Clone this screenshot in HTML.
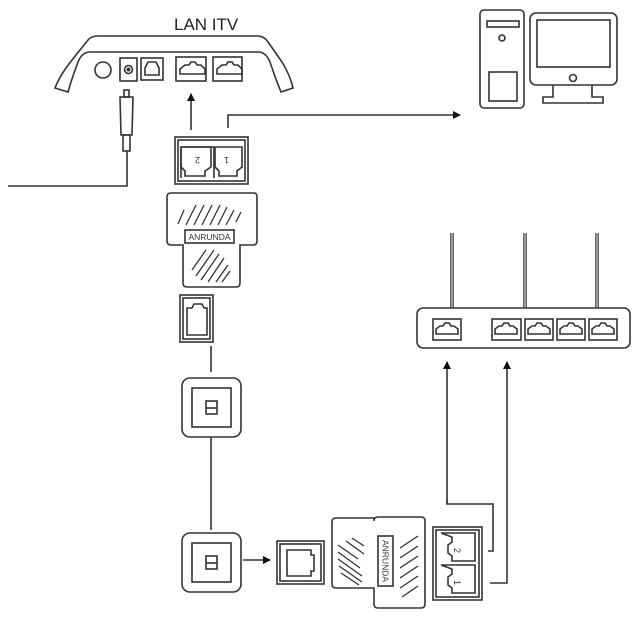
<!DOCTYPE html>
<html><head><meta charset="utf-8"><style>html,body{margin:0;padding:0;background:#fff}svg{display:block}</style></head>
<body>
<svg width="640" height="628" viewBox="0 0 640 628" xmlns="http://www.w3.org/2000/svg" fill="none" stroke="#333" stroke-width="1.6" font-family="Liberation Sans, sans-serif">
<defs><marker id="a" markerWidth="8" markerHeight="8" refX="7" refY="4" orient="auto" markerUnits="userSpaceOnUse"><path d="M0,0 L8,4 L0,8 Z" fill="#111" stroke="none"/></marker></defs>
<!-- top router -->
<text x="174" y="30" font-size="17" fill="#222" stroke="none">LAN  ITV</text>
<path d="M55,88 Q60,75 72,60 L88,40 Q91,36 98,36 L258,36 Q264,36 268,42 L282,62 Q290,75 293,88 L281,92 Q276,80 270,62 Q266,52 258,52 L90,52 Q82,52 78,62 Q72,78 68,92 Z"/>
<circle cx="103" cy="70" r="8"/>
<rect x="120" y="58" width="17" height="23"/><circle cx="128.5" cy="69.5" r="4"/><circle cx="128.5" cy="69.5" r="1.2" fill="#333"/>
<rect x="141" y="58" width="22" height="22"/><path d="M145,68 l3,-6 h8 l3,6 v7 h-14 z"/>
<rect x="176" y="57" width="30" height="24"/><path d="M180,74 v-5 l5,-4 h4 l2,-3 h4 l2,3 h4 l4,4 v5 z"/>
<rect x="213" y="57" width="29" height="24"/><path d="M217,74 v-5 l5,-4 h4 l2,-3 h4 l2,3 h4 l4,4 v5 z"/>
<!-- power plug -->
<rect x="124" y="90" width="5" height="7"/>
<path d="M120,97 h13 l-1,38 h-11 z"/>
<rect x="123" y="135" width="7" height="16"/>
<path d="M127,151 V186 H8"/>
<!-- arrows from adapter -->
<path d="M191,130 V94" marker-end="url(#a)"/>
<path d="M228,128 V115 H460" marker-end="url(#a)"/>
<!-- computer -->
<rect x="480" y="10" width="44" height="98" rx="4"/>
<rect x="487" y="21" width="32" height="6"/>
<circle cx="502" cy="38" r="3"/>
<rect x="489" y="72" width="28" height="29"/>
<rect x="530" y="13" width="87" height="72" rx="6"/>
<rect x="537" y="20" width="73" height="47"/>
<circle cx="573" cy="78" r="3.5"/>
<path d="M553,85 v12 h-10 v6 h60 v-6 h-11 v-12"/>
<!-- top adapter -->
<rect x="175" y="137" width="73" height="47"/>
<rect x="178" y="140" width="67" height="41"/>
<path d="M181,147 h33 M214,147 v31 M181,147 v31"/>
<path d="M181,147 h30 v20 l-6,4 v5 h-20 v-5 l-4,-4 z"/>
<path d="M215,147 h27 v20 l-5,4 v5 h-18 v-5 l-4,-4 z"/>
<text x="200" y="163" font-size="9" fill="#333" stroke="none" transform="rotate(180 200 160)">2</text>
<text x="229" y="163" font-size="9" fill="#333" stroke="none" transform="rotate(180 229 160)">1</text>
<path d="M171,193 H254 Q257,193 257,197 V241 Q257,245 253,245 H240 V283 Q240,287 236,287 H187 Q183,287 183,283 V245 H171 Q167,245 167,241 V197 Q167,193 171,193 Z"/>
<g stroke-width="1.3">
<path d="M178,224 l6,-14 M186,225 l10,-20 M194,225 l10,-20 M202,225 l10,-20 M210,225 l10,-20 M218,225 l9,-18 M226,225 l8,-15 M236,222 l5,-10"/>
<path d="M192,270 l14,-20 M196,276 l18,-26 M201,280 l18,-26 M208,282 l16,-24 M216,282 l12,-17 M222,282 l8,-11"/>
</g>
<rect x="185" y="230" width="49" height="13"/>
<text x="209.5" y="240" font-size="8.5" fill="#333" stroke="none" text-anchor="middle">ANRUNDA</text>
<!-- jack -->
<rect x="180" y="295" width="33" height="47"/><rect x="183" y="298" width="27" height="41"/>
<path d="M187,335 v-27 h5 l2,-4 h8 l2,4 h3 v27 z"/>
<path d="M211,346 V372"/>
<!-- wall plates -->
<rect x="182" y="378" width="59" height="59" rx="8"/><rect x="192" y="388" width="39" height="39"/><rect x="206" y="401" width="11" height="13"/><path d="M206,408 h11"/>
<path d="M211,437 V530"/>
<rect x="182" y="533" width="59" height="59" rx="8"/><rect x="192" y="543" width="39" height="39"/><rect x="206" y="556" width="11" height="13"/><path d="M206,563 h11"/>
<path d="M243,560 H270" marker-end="url(#a)"/>
<!-- bottom jack -->
<rect x="277" y="541" width="47" height="43"/><rect x="280" y="544" width="41" height="37"/>
<path d="M287,550 v26 h24 v-5 h3 v-16 h-3 v-5 z"/>
<!-- bottom adapter -->
<path d="M336,518 H374 V521 Q374,517 378,517 H421 Q425,517 425,521 V604 Q425,608 421,608 H378 Q374,608 374,604 V588 H336 Q332,588 332,584 V522 Q332,518 336,518 Z"/>
<g stroke-width="1.3">
<path d="M338,545 l20,14 M338,552 l22,16 M338,559 l24,17 M339,566 l23,16 M341,573 l18,12 M346,541 l18,13 M352,538 l12,8"/>
<path d="M400,548 l18,-12 M400,558 l18,-12 M400,568 l18,-12 M400,578 l18,-12 M400,588 l18,-12 M402,597 l16,-11"/>
</g>
<rect x="378" y="536" width="15" height="50"/>
<text x="385.5" y="561" font-size="8.5" fill="#333" stroke="none" text-anchor="middle" transform="rotate(90 385.5 561)" dy="3">ANRUNDA</text>
<rect x="433" y="527" width="49" height="73"/><rect x="436" y="530" width="43" height="67"/>
<path d="M441,533 h34 v28 h-23 v-5 l-4,-3 v-8 l4,-3 v-5 z"/>
<path d="M441,565 h34 v28 h-23 v-5 l-4,-3 v-8 l4,-3 v-5 z"/>
<text x="457" y="551" font-size="9" fill="#333" stroke="none" transform="rotate(90 457 548)">2</text>
<text x="457" y="583" font-size="9" fill="#333" stroke="none" transform="rotate(90 457 580)">1</text>
<path d="M447,500 V504 H493 V551 H488"/>
<path d="M447,504 V362" marker-end="url(#a)"/>
<path d="M490,583 H507 V362" marker-end="url(#a)"/>
<!-- right router -->
<path d="M452,308 V233 M525,308 V233 M597,308 V233" stroke-width="3.5"/>
<path d="M452,308 V233 M525,308 V233 M597,308 V233" stroke="#fff" stroke-width="1"/>
<rect x="417" y="308" width="213" height="40" rx="6"/>
<g>
<rect x="433" y="319" width="28" height="21"/><path d="M436,334 v-5 l4,-3 h3 l2,-3 h4 l2,3 h3 l4,3 v5 z"/>
<rect x="492" y="319" width="29" height="21"/><path d="M495,334 v-5 l4,-3 h3 l2,-3 h4 l2,3 h3 l4,3 v5 z"/>
<rect x="525" y="319" width="28" height="21"/><path d="M528,334 v-5 l4,-3 h3 l2,-3 h4 l2,3 h3 l4,3 v5 z"/>
<rect x="557" y="319" width="28" height="21"/><path d="M560,334 v-5 l4,-3 h3 l2,-3 h4 l2,3 h3 l4,3 v5 z"/>
<rect x="589" y="319" width="28" height="21"/><path d="M592,334 v-5 l4,-3 h3 l2,-3 h4 l2,3 h3 l4,3 v5 z"/>
</g>
</svg>
</body></html>
